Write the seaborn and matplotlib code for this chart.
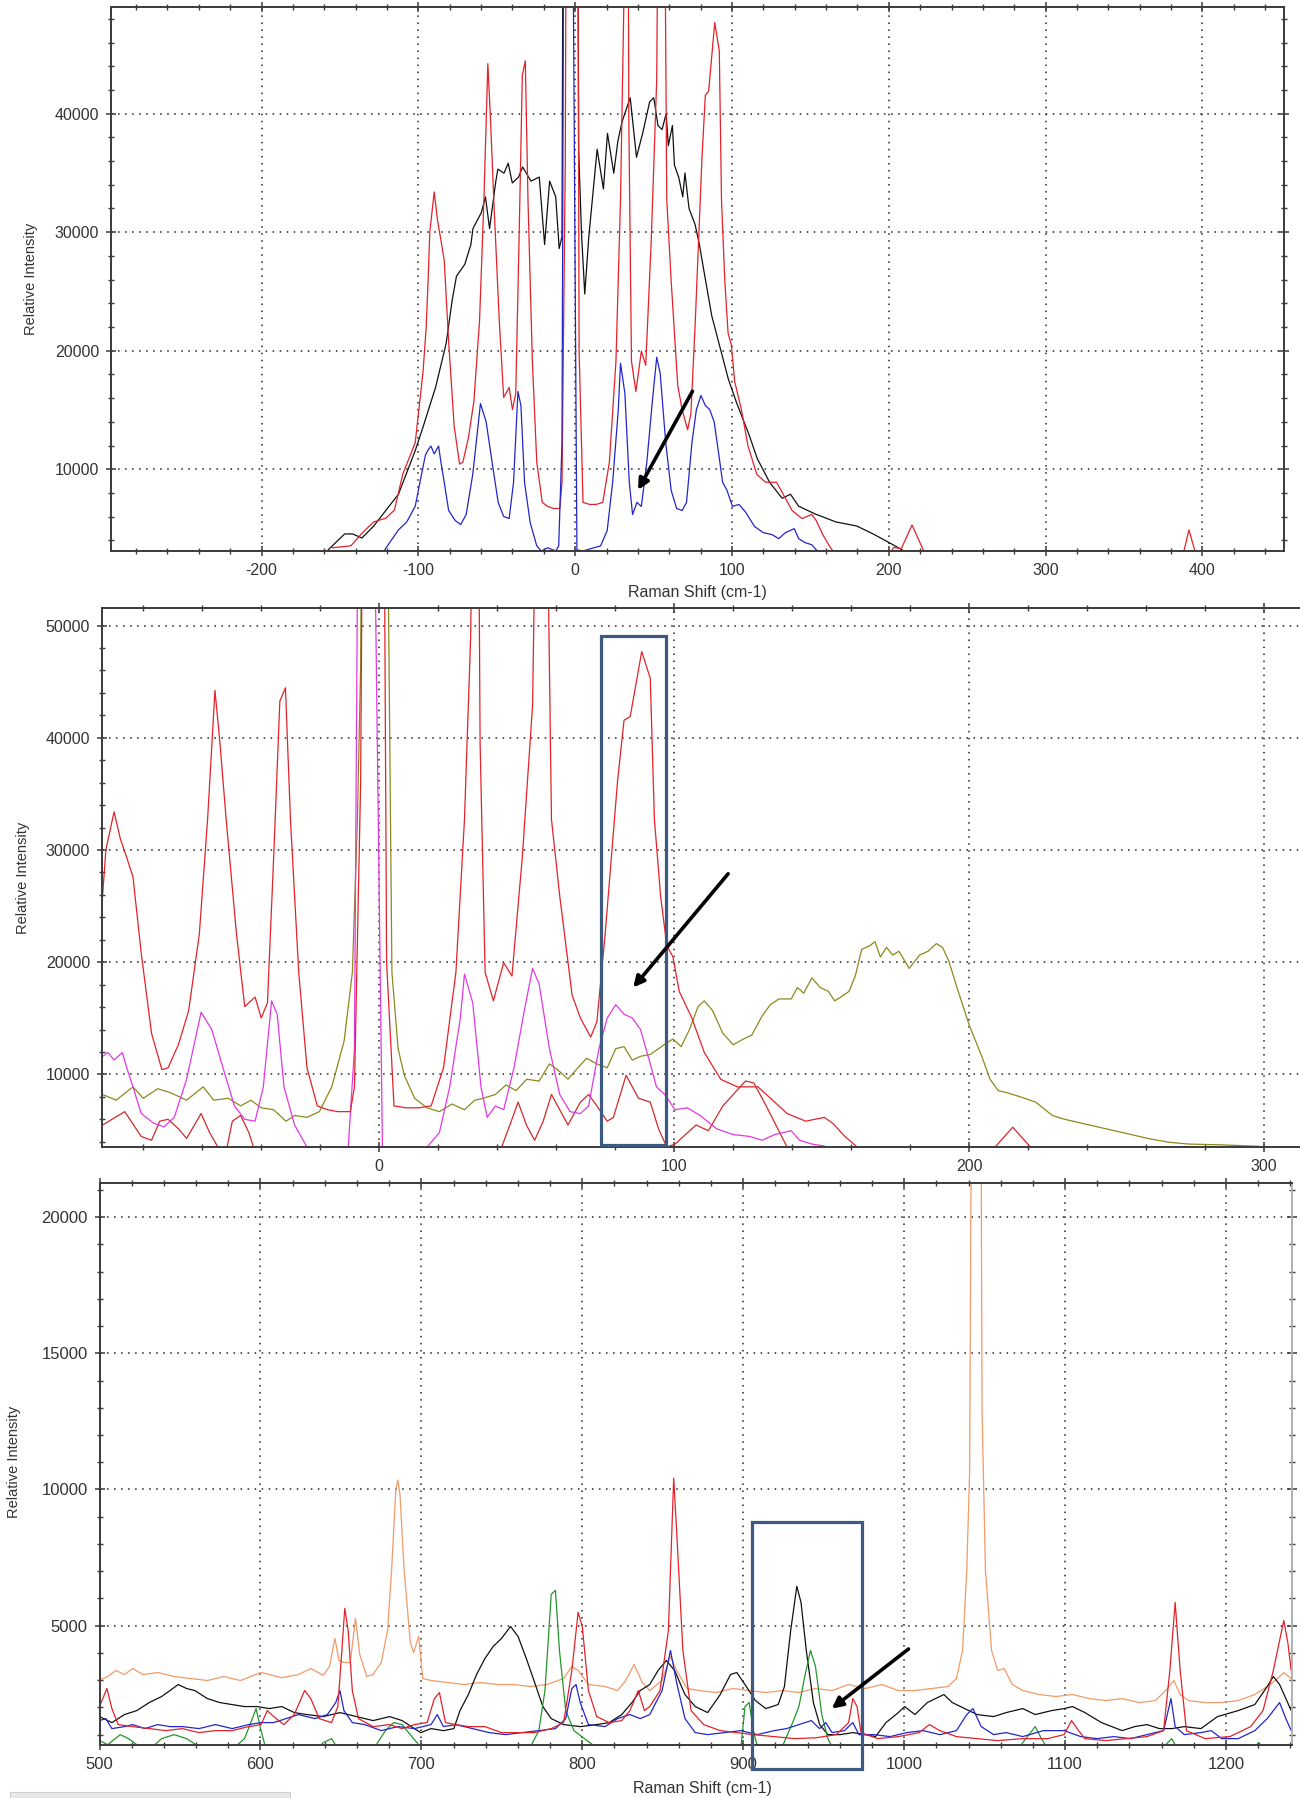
import numpy as np
import pandas as pd
import matplotlib
matplotlib.use("Agg")
import matplotlib.pyplot as plt
import seaborn as sns
from matplotlib.patches import Rectangle
from matplotlib.ticker import MultipleLocator

sns.set_theme(style="white")
plt.rcParams['font.family'] = ['Liberation Sans', 'DejaVu Sans']
plt.rcParams['axes.unicode_minus'] = False

# ---------------------------------------------------------------------------
# Spectra (Raman shift in cm-1, relative intensity); values above the axis
# limits belong to the saturated laser line and the strongest bands.
# ---------------------------------------------------------------------------

# low-frequency spectrum A (red in the upper two panels)
spec_a = [(-155, 3370), (-143, 3540), (-136.4, 4540), (-128.5, 5550), (-120.6, 5880),
          (-115.3, 6550), (-110, 9560), (-102, 12240), (-97, 18260), (-95, 22000),
          (-93.8, 25910), (-92.7, 30000), (-89.9, 33400), (-87.8, 31020), (-85.6, 29310),
          (-83.5, 27610), (-80.7, 20810), (-77.2, 13670), (-73.7, 10430), (-71.6, 10600),
          (-68.1, 12650), (-64.6, 15710), (-61, 22510), (-58.2, 32720), (-55.7, 44220),
          (-54, 39520), (-51.9, 32720), (-48.4, 22510), (-45.6, 16050), (-42.1, 16900),
          (-40, 15030), (-37.9, 16390), (-35.8, 29310), (-33.7, 43260), (-31.8, 44450),
          (-30.1, 32720), (-27.3, 19110), (-24.5, 10600), (-21, 7200), (-17.5, 6860),
          (-14, 6690), (-9.8, 6690), (-8.4, 8900), (-6.3, 36120), (-5.5, 70000),
          (1.5, 70000), (2.5, 20000), (5, 7200), (9.2, 7030), (13.4, 7030), (17.6, 7200),
          (21.8, 10600), (26, 19110), (28.9, 32720), (31, 49000), (32, 70000),
          (33.5, 70000), (34.2, 39520), (35.9, 19110), (38.7, 16560), (42.2, 19960),
          (45, 18770), (48.5, 29310), (52, 42920), (53.5, 70000), (56.5, 70000),
          (58.4, 32720), (61.2, 25910), (65.4, 17070), (68.2, 15030), (71.7, 13330),
          (73.8, 14690), (76.6, 22510), (80.8, 36120), (83, 41560), (85.1, 41900),
          (89, 47680), (91.9, 45300), (93.3, 32720), (95.4, 25910), (97.5, 21490),
          (99.6, 20470), (101.7, 17410), (106, 15030), (110.2, 11970), (115.8, 9570),
          (121.4, 8900), (128.4, 8900), (134.1, 7540), (138.3, 6520), (144.6, 5840),
          (150.9, 6180), (153.7, 5670), (157.9, 4480), (162.1, 3530), (167, 2600),
          (200, 2600), (203, 3400), (208, 3300), (214.8, 5300), (222.6, 3000),
          (228, 2600), (386, 2600), (388, 3000), (391.4, 4880), (395.4, 3000), (398, 2600)]

# low-frequency spectrum B (blue in the top panel, magenta in the middle one)
spec_b = [(-121.9, 3100), (-118, 3870), (-112.7, 4880), (-107.4, 5550), (-102, 6880),
          (-98, 9560), (-95.5, 11200), (-93.8, 11620), (-92, 11960), (-89.9, 11290),
          (-87.1, 11960), (-85.5, 10500), (-83.5, 8900), (-80.7, 6520), (-76.5, 5670),
          (-73, 5330), (-69.5, 6180), (-65.3, 9580), (-60.4, 15540), (-56.8, 14010),
          (-52.6, 10260), (-49.1, 7200), (-45.6, 6010), (-42.1, 5840), (-39.3, 8900),
          (-36.5, 16560), (-34.6, 15370), (-32.3, 8900), (-28.7, 5500), (-24.5, 3530),
          (-21.6, 3100), (-17.6, 3370), (-12.4, 3100), (-10.5, 3530), (-8.4, 12300),
          (-7, 70000), (-2.1, 70000), (0, 25910), (1.1, 3200), (5, 3100), (10, 3300),
          (16.2, 3530), (20.4, 4820), (23.9, 8900), (27.5, 15030), (28.9, 18940),
          (31.7, 16390), (34.5, 8900), (36.6, 6180), (39.4, 7200), (42.2, 6860),
          (45.7, 10600), (49.2, 15710), (52, 19450), (54.2, 18090), (57.7, 12300),
          (61.2, 8220), (64.7, 6690), (68.2, 6520), (71, 7200), (74.5, 12300),
          (77.3, 15030), (80.2, 16220), (83, 15370), (85.8, 15030), (88.6, 14010),
          (91.9, 10940), (94, 8900), (96.8, 8220), (100.3, 6860), (104.5, 7030),
          (108.8, 6350), (114.4, 5160), (120, 4650), (125.6, 4480), (129.8, 4140),
          (134.1, 4650), (139.7, 4990), (142.5, 4140), (146.7, 3800), (150.9, 3630),
          (154.4, 3100), (158, 2800)]

# low-frequency spectrum C (black, top panel)
spec_c = [(-157.5, 3200), (-147, 4540), (-142, 4540), (-136, 4200), (-128.5, 5200),
          (-120.6, 6550), (-112.7, 7890), (-102, 11570), (-97, 13570), (-89, 16920),
          (-82.3, 20600), (-78.4, 24280), (-75.7, 26290), (-70.4, 27290), (-66.5, 28960),
          (-65.2, 30300), (-59.9, 31640), (-57.2, 32980), (-54.6, 30300), (-50.6, 34310),
          (-49.3, 35320), (-45.4, 34980), (-42.7, 35820), (-40.1, 34150), (-36.1, 34650),
          (-33.5, 35500), (-28.2, 34310), (-22.9, 34650), (-19.5, 28960), (-16.3, 34310),
          (-12.4, 32980), (-10.2, 28620), (-8.4, 29630), (-7.5, 70000), (1.5, 70000),
          (2.2, 37000), (4, 30000), (6.1, 24780), (8.7, 29630), (14, 37000), (18, 33640),
          (20.6, 38330), (24.6, 34980), (27.2, 37660), (29.9, 39330), (35.1, 41340),
          (39.1, 36320), (43, 38330), (47.5, 41000), (50.1, 41340), (52.8, 39000),
          (55.4, 38660), (58, 40000), (59.4, 37300), (62, 39000), (63.3, 35650),
          (66, 34650), (68.6, 32980), (70, 35000), (72.6, 32000), (76.5, 30630),
          (79.2, 28960), (81.8, 26950), (87.1, 22940), (92.4, 20260), (97.7, 17590),
          (103, 15580), (110.9, 12900), (116.1, 10900), (124, 8890), (132, 7550),
          (137.3, 7890), (142.5, 6880), (153.1, 6220), (166.3, 5550), (179.5, 5210),
          (190, 4540), (199.3, 3870), (208.5, 3200), (212, 2800)]

# low-frequency spectrum D (olive, middle panel)
spec_d = [(-93.8, 8220), (-89.2, 7710), (-83.5, 8900), (-80, 7880), (-75.1, 8730),
          (-70.9, 8390), (-65.3, 7710), (-59.7, 8900), (-56.1, 7710), (-51.2, 7880),
          (-47, 7200), (-43.5, 7710), (-40, 7030), (-35.8, 6860), (-31.6, 5840),
          (-28.7, 6350), (-24.5, 6180), (-20.3, 6690), (-16.1, 8900), (-11.9, 12990),
          (-9.1, 19110), (-7.4, 32720), (-6.3, 46330), (-5.8, 70000), (2.5, 70000),
          (4.3, 19110), (6.4, 12300), (8.5, 9920), (12, 7880), (16.2, 7030), (20.4, 6690),
          (24.7, 7370), (28.9, 6860), (32.4, 7710), (35.2, 7880), (39.4, 8220),
          (43, 9070), (46.4, 8560), (50, 9580), (54.2, 9410), (57.7, 10940), (60.5, 10430),
          (64, 9580), (66.8, 10430), (70.3, 11450), (73.8, 10940), (77.3, 10600),
          (80.2, 12300), (83, 12480), (85.8, 11280), (88.6, 11620), (91.9, 11790),
          (94.7, 12300), (97.5, 12820), (99.6, 13160), (102.4, 12480), (105.2, 14010),
          (108.1, 16050), (110.2, 16560), (113, 15710), (116.5, 13670), (120, 12650),
          (123.5, 13160), (126.3, 13500), (129.8, 15200), (132.6, 16220), (135.5, 16730),
          (139.7, 16730), (141.8, 17750), (143.9, 17240), (146.7, 18600), (149.5, 17750),
          (152.3, 17410), (154.4, 16560), (156.5, 16900), (159.3, 17410), (161.4, 18770),
          (163.6, 21150), (166.4, 21490), (168.1, 21830), (169.9, 20470), (172, 21320),
          (174.1, 20640), (176.2, 20980), (179.7, 19450), (183.2, 20640), (186.1, 20980),
          (188.9, 21660), (191, 21320), (193.1, 20130), (195.9, 17750), (200.1, 14350),
          (204.3, 11620), (207.1, 9580), (209.9, 8560), (212.7, 8390), (216.9, 8050),
          (222.6, 7540), (228.2, 6350), (232.4, 6010), (238, 5670), (243.6, 5330),
          (249.3, 4990), (254.9, 4650), (260.5, 4310), (267.5, 3970), (274.6, 3800),
          (285.8, 3730), (298.4, 3600)]

# low-frequency spectrum E (second red trace, middle panel)
spec_e = [(-93.8, 5500), (-86.3, 6690), (-80.7, 4480), (-77.2, 4140), (-74.4, 5840),
          (-71.6, 6010), (-68.1, 5160), (-65.3, 4310), (-60.4, 6520), (-57.5, 4820),
          (-54.7, 3530), (-52, 3000), (-49.8, 5840), (-47, 6350), (-44.2, 4820),
          (-42, 3000), (38, 3000), (41.5, 3530), (44.3, 5500), (47.1, 7540), (49.9, 5500),
          (52.7, 4140), (55.6, 5840), (58.4, 8220), (61.2, 6860), (64, 5500), (68.2, 7540),
          (71, 8220), (73.8, 7200), (77.3, 5840), (79.4, 6180), (83.7, 9930), (87.9, 7880),
          (91.9, 7540), (94.7, 5160), (97.5, 3530), (100.3, 3800), (107.4, 5500),
          (111.6, 4990), (116.5, 7200), (124.2, 9420), (127, 9250), (131.2, 7200),
          (138.3, 3530), (141, 3000)]

# fingerprint region, 500-1240 cm-1 (bottom panel)
fp_orange = [(500, 3000), (505.1, 3134), (510.3, 3355), (515.5, 3207), (520.6, 3428),
             (527, 3207), (536.1, 3281), (546.4, 3134), (556.7, 3060), (567, 2987),
             (577.3, 3134), (587.6, 2987), (600.4, 3281), (613.3, 3090), (623.6, 3207),
             (631.3, 3428), (639, 3178), (642.9, 3500), (646.3, 4531), (648.8, 3722),
             (651.9, 3649), (655.8, 3649), (659.1, 5266), (661.7, 3943), (666.1, 3134),
             (669.9, 3207), (675.1, 3649), (679, 4826), (681.5, 7032), (684.1, 9974),
             (685.4, 10342), (686.7, 9827), (689.3, 7032), (693.1, 4384), (695.2, 4017),
             (698.3, 4605), (700.9, 3060), (706, 2987), (716.3, 2913), (726.6, 2840),
             (736.9, 2913), (747.2, 2840), (757.5, 2840), (767.8, 2766), (778.1, 2840),
             (788.4, 3060), (793.5, 3502), (797.4, 3355), (803.8, 2840), (814.2, 2766),
             (821.9, 2619), (827, 2987), (832.2, 3575), (837.3, 2913), (841.9, 2619),
             (849.6, 2987), (854.8, 3870), (858.6, 3355), (865.1, 2693), (872.8, 2619),
             (883.1, 2546), (893.4, 2693), (903.7, 2619), (914, 2546), (924.3, 2619),
             (934.6, 2546), (944.9, 2693), (955.2, 2619), (965.5, 2840), (975.8, 2693),
             (986.1, 2840), (996.4, 2619), (1006.7, 2619), (1017, 2693), (1027.3, 2766),
             (1032.5, 3060), (1036.3, 4090), (1038.9, 7032), (1040.7, 10710),
             (1042.2, 30000), (1047.4, 30000), (1048.4, 12916), (1050.5, 7032),
             (1054.3, 4090), (1058.2, 3355), (1062.1, 3428), (1067.2, 2840), (1073.7, 2619),
             (1084, 2472), (1094.3, 2399), (1104.6, 2472), (1114.9, 2325), (1125.2, 2251),
             (1135.5, 2325), (1145.8, 2178), (1156.1, 2251), (1162.5, 2619), (1167.6, 2987),
             (1171.5, 2472), (1176.7, 2251), (1187, 2178), (1197.3, 2178), (1207.6, 2251),
             (1217.9, 2472), (1225.6, 2766), (1230.7, 2987), (1235.9, 3281), (1240.5, 3060)]

fp_black = [(500, 1663), (507.7, 1442), (515.5, 1737), (523.2, 1884), (530.9, 2178),
            (538.6, 2399), (543.8, 2619), (548.9, 2840), (554.1, 2693), (559.2, 2619),
            (567, 2325), (574.7, 2178), (582.4, 2104), (590.1, 2031), (597.9, 2031),
            (605.6, 1957), (613.3, 2031), (621, 1810), (628.8, 1737), (639, 1663),
            (649.4, 1810), (659.7, 1663), (670, 1516), (680.3, 1663), (688, 1516),
            (695.7, 1222), (699.6, 1075), (706, 1222), (713.7, 1148), (720.2, 1222),
            (724, 1884), (729.2, 2472), (734.3, 3207), (739.5, 3796), (744.6, 4237),
            (749.8, 4531), (755.4, 4973), (760.1, 4605), (765.2, 3796), (770.4, 2913),
            (775.5, 2031), (780.7, 1589), (788.4, 1369), (798.7, 1295), (809, 1369),
            (816.7, 1442), (824.5, 1737), (830.9, 2178), (836, 2619), (841.9, 2840),
            (847.1, 3355), (852.2, 3722), (857.4, 3355), (863.8, 2472), (870.2, 2031),
            (877.9, 1810), (885.7, 2472), (892.1, 3207), (896, 3281), (901.1, 2840),
            (907.6, 2251), (914, 1957), (921.7, 2104), (925.6, 2766), (929.5, 4826),
            (933.3, 6444), (935.9, 5855), (939.2, 4090), (943.6, 2178), (947.5, 1369),
            (952.6, 1001), (960.3, 1001), (968.1, 1075), (975.8, 1001), (982.2, 928),
            (988.7, 1442), (996.4, 1810), (1000.3, 2031), (1006.7, 1737), (1014.4, 2178),
            (1024.7, 2472), (1029.9, 2178), (1037.6, 1957), (1045.3, 1737), (1055.6, 1663),
            (1063.4, 1810), (1073.7, 1957), (1081.4, 1737), (1091.7, 1884), (1099.4, 1957),
            (1104.6, 2031), (1112.3, 1810), (1122.6, 1442), (1135.5, 1148), (1143.2, 1295),
            (1150.9, 1369), (1158.6, 1222), (1166.3, 1222), (1174.1, 1295), (1184.4, 1222),
            (1194.7, 1663), (1207.6, 1884), (1217.9, 2104), (1225.6, 2766), (1229.4, 3134),
            (1233.3, 2840), (1240.5, 1884)]

fp_red = [(500, 2031), (504.6, 2693), (507.7, 1957), (511.6, 1369), (520.6, 1295),
          (530.9, 1222), (541.2, 1148), (551.5, 1222), (561.8, 1075), (572.1, 1148),
          (582.4, 1148), (592.7, 1295), (600.4, 1369), (604.3, 1884), (608.2, 1663),
          (614.6, 1369), (621, 1737), (627.5, 2619), (631.3, 2325), (636.5, 1589),
          (644.2, 1442), (648.1, 2031), (650.6, 4090), (652.4, 5634), (654.5, 4826),
          (657.1, 2619), (660.9, 1589), (670, 1295), (680.3, 1369), (688, 1222),
          (695.7, 1369), (703.6, 1442), (708.1, 2325), (711.2, 2546), (715, 1442),
          (721.5, 1369), (729.2, 1295), (739.5, 1295), (749.8, 1075), (760.1, 1075),
          (770.4, 1075), (780.7, 1222), (788.4, 1442), (793.5, 3355), (797.4, 5487),
          (800, 4973), (803.8, 2619), (809, 1663), (816.7, 1442), (824.5, 1516),
          (829.6, 1884), (834.8, 2619), (838.6, 1884), (841.9, 2031), (848.3, 2619),
          (853.5, 4826), (856.8, 10415), (858.6, 8503), (862.5, 4090), (867.6, 1884),
          (875.4, 1369), (885.7, 1148), (896, 1075), (906.3, 1001), (919.2, 928),
          (932, 854), (944.9, 883), (957.8, 1001), (965.5, 1442), (968.1, 2325),
          (970.7, 2031), (973.2, 1075), (983.5, 854), (996.4, 928), (1009.3, 1075),
          (1015.7, 1369), (1022.2, 1148), (1032.5, 928), (1045.3, 854), (1058.2, 781),
          (1073.7, 854), (1089.1, 854), (1099.4, 1001), (1104, 1516), (1108.4, 1148),
          (1112.3, 854), (1125.2, 781), (1138, 854), (1150.9, 928), (1161.2, 1148),
          (1165.1, 3355), (1168.4, 5855), (1171.5, 3355), (1175.4, 1148), (1187, 854),
          (1202.4, 928), (1215.3, 1295), (1223, 1884), (1229.4, 3355), (1235.9, 5193),
          (1238.4, 4384), (1240.5, 3355)]

fp_blue = [(500, 1516), (503.9, 1589), (507.7, 1222), (515.5, 1295), (520.6, 1369),
           (528.3, 1222), (536.1, 1369), (543.8, 1295), (551.5, 1295), (561.8, 1222),
           (572.1, 1369), (582.4, 1222), (592.7, 1369), (600.4, 1442), (608.2, 1442),
           (615.9, 1589), (623.6, 1737), (633.9, 1589), (641.6, 1737), (646.8, 2178),
           (649.4, 2619), (651.9, 1884), (657.1, 1442), (664.8, 1369), (675.1, 1148),
           (685.4, 1295), (695.7, 1222), (706, 1369), (709.9, 1737), (713.7, 1295),
           (721.5, 1369), (731.8, 1222), (742.1, 1075), (752.4, 1001), (762.6, 1075),
           (773, 1148), (783.3, 1222), (789.7, 1589), (793.5, 2693), (796.1, 2840),
           (798.7, 2178), (803.8, 1369), (814.2, 1295), (821.9, 1589), (829.6, 1737),
           (836, 1589), (841.9, 1737), (849.6, 2619), (854.8, 4090), (858.6, 2913),
           (863.8, 1589), (870.2, 1075), (877.9, 1001), (888.3, 1075), (898.6, 1148),
           (908.8, 1001), (919.2, 1148), (926.9, 1222), (934.6, 1369), (942.3, 1516),
           (947.5, 1222), (951.3, 1442), (955.2, 1075), (962.9, 1148), (968.1, 1442),
           (971.9, 1001), (981, 1001), (991.3, 928), (1001.6, 1075), (1011.9, 1148),
           (1022.2, 1001), (1032.5, 1148), (1038.9, 1737), (1042.7, 1957), (1047.9, 1295),
           (1055.6, 1001), (1063.4, 1075), (1073.7, 928), (1086.5, 1148), (1099.4, 1148),
           (1109.7, 928), (1120, 854), (1130.3, 928), (1140.6, 854), (1150.9, 1001),
           (1161.2, 1148), (1165.8, 2325), (1168.4, 1295), (1174.1, 1001), (1184.4, 1075),
           (1190.8, 1148), (1197.3, 854), (1207.6, 854), (1217.9, 1148), (1225.6, 1589),
           (1233.3, 2178), (1237.2, 1589), (1240.5, 1148)]

fp_green = [(500, 780), (505.1, 633), (512.9, 1000), (518, 853), (523.2, 633), (530, 400),
            (538.6, 853), (546.4, 1000), (554.1, 853), (561.8, 560), (570, 400),
            (582.4, 450), (590.1, 853), (594, 1442), (597.3, 1957), (600.4, 1148),
            (603, 560), (610, 400), (635, 450), (639, 707), (644.2, 853), (648, 500),
            (670, 450), (677.7, 1148), (682.8, 1442), (688, 1369), (693.1, 1000),
            (698.3, 633), (705, 400), (765, 400), (767.8, 560), (773, 1148), (776.8, 2619),
            (780.7, 6150), (783.3, 6297), (785.8, 4090), (789.7, 1884), (794.8, 1148),
            (801.3, 853), (806.4, 633), (812, 400), (895, 400), (898.6, 560), (901.1, 2031),
            (903.7, 2178), (906.3, 1148), (908.8, 560), (915, 400), (922, 400), (924.3, 560),
            (930.7, 1442), (934.6, 2031), (938.5, 3207), (941.8, 4090), (944.9, 3502),
            (948.8, 1737), (952.6, 853), (955.2, 560), (960, 400), (1070, 400),
            (1073.7, 707), (1081.4, 1295), (1085.3, 853), (1090, 400), (1158, 400),
            (1161.2, 560), (1166.3, 853), (1170, 450), (1215, 400), (1220.4, 707),
            (1225, 400), (1241, 400)]

# axis ranges
top_xlim, top_ylim = (-296, 452), (3100, 49000)
mid_xlim, mid_ylim = (-94, 312.2), (3540, 51560)
bot_xlim, bot_ylim = (500, 1241), (620, 21250)

# highlighted regions (x0, x1, y0, y1) and arrows (tail, head)
mid_box = (75.3, 97.3, 3700, 49040)
bot_box = (905.7, 973.7, -265, 8795)
top_arrow = ((74.8, 16580), (40.1, 8250))
mid_arrow = ((118.3, 27880), (86.1, 17750))
bot_arrow = ((1002.7, 4144), (955.0, 1954))

RED = '#E3222A'
BLUE = '#2226C8'
BLACK = '#111111'
MAGENTA = '#E238E2'
OLIVE = '#8A8A1C'
RED2 = '#D02A2A'
ORANGE = '#F29A68'
GREEN = '#23962C'
BOX = '#3D5B80'
SPINE = '#3a3a3a'
TEXT = '#333333'
LW = 0.9


def frame(pairs):
    return pd.DataFrame(pairs, columns=['shift', 'intensity'])


def trace(ax, pairs, color, lw=LW):
    sns.lineplot(data=frame(pairs), x='shift', y='intensity', ax=ax, color=color,
                 sort=False, estimator=None, lw=lw)


def style(ax, xmajor, xminor, ymajor, yminor, fs=11.5, right=True):
    ax.xaxis.set_major_locator(MultipleLocator(xmajor))
    ax.xaxis.set_minor_locator(MultipleLocator(xminor))
    ax.yaxis.set_major_locator(MultipleLocator(ymajor))
    ax.yaxis.set_minor_locator(MultipleLocator(yminor))
    ax.tick_params(which='both', direction='inout', top=True, right=right,
                   bottom=True, left=True, color=SPINE, labelcolor=TEXT)
    ax.tick_params(which='major', length=7, width=1.1, labelsize=fs, pad=5)
    ax.tick_params(which='minor', length=4.5, width=1.0)
    ax.grid(True, which='major', color='#222222', linestyle=(0, (1, 3.6)), lw=1.1)
    for side, sp in ax.spines.items():
        sp.set_color(SPINE)
        sp.set_linewidth(1.4)
    ax.spines['right'].set_visible(right)
    ax.set_xlabel('')
    ax.set_ylabel('')


fig = plt.figure(figsize=(13, 17.98), dpi=100, facecolor='white')

# ---- top panel -------------------------------------------------------------
ax1 = fig.add_axes([111 / 1300, 1 - 551 / 1798, 1173 / 1300, 544 / 1798])
trace(ax1, spec_c, BLACK)
trace(ax1, spec_a, RED)
trace(ax1, spec_b, BLUE)
ax1.set_xlim(*top_xlim)
ax1.set_ylim(*top_ylim)
style(ax1, 100, 20, 10000, 2000)
ax1.set_xlabel('Raman Shift (cm-1)', fontsize=11.5, color=TEXT)
ax1.xaxis.set_label_coords(0.4996, -0.077)
ax1.xaxis.label.set_va('center')
ax1.set_ylabel('Relative Intensity', fontsize=10.5, color=TEXT)
ax1.yaxis.set_label_coords(-0.068, 0.5)
ax1.yaxis.label.set_va('center')

# ---- middle panel ----------------------------------------------------------
ax2 = fig.add_axes([102 / 1300, 1 - 1147 / 1798, 1198 / 1300, 539 / 1798])
trace(ax2, spec_d, OLIVE)
trace(ax2, spec_e, RED2)
trace(ax2, spec_b, MAGENTA)
trace(ax2, spec_a, RED)
ax2.set_xlim(*mid_xlim)
ax2.set_ylim(*mid_ylim)
style(ax2, 100, 20, 10000, 2000, right=False)
ax2.set_ylabel('Relative Intensity', fontsize=10.5, color=TEXT)
ax2.yaxis.set_label_coords(-0.066, 0.5)
ax2.yaxis.label.set_va('center')

# ---- bottom panel ----------------------------------------------------------
ax3 = fig.add_axes([99.5 / 1300, 1 - 1745 / 1798, 1192.5 / 1300, 562 / 1798])
trace(ax3, fp_orange, ORANGE)
trace(ax3, fp_black, BLACK)
trace(ax3, fp_green, GREEN)
trace(ax3, fp_blue, BLUE)
trace(ax3, fp_red, RED)
ax3.set_xlim(*bot_xlim)
ax3.set_ylim(*bot_ylim)
style(ax3, 100, 20, 5000, 1000, fs=12)
ax3.spines['right'].set_color('#b0b0b0')
ax3.set_xlabel('Raman Shift (cm-1)', fontsize=11.5, color=TEXT)
ax3.xaxis.set_label_coords(0.506, -0.078)
ax3.xaxis.label.set_va('center')
ax3.set_ylabel('Relative Intensity', fontsize=10.5, color=TEXT)
ax3.yaxis.set_label_coords(-0.0713, 0.504)
ax3.yaxis.label.set_va('center')

# ---- highlight boxes and arrows -------------------------------------------
for ax, (x0, x1, y0, y1) in ((ax2, mid_box), (ax3, bot_box)):
    ax.add_patch(Rectangle((x0, y0), x1 - x0, y1 - y0, fill=False, edgecolor=BOX,
                           lw=2.3, clip_on=False, zorder=6))

for ax, (tail, head) in ((ax1, top_arrow), (ax2, mid_arrow), (ax3, bot_arrow)):
    ax.annotate('', xy=head, xytext=tail,
                arrowprops=dict(arrowstyle='-|>', color='black', lw=2.6,
                                mutation_scale=16, shrinkA=0, shrinkB=0),
                zorder=7)

# small status bar strip along the lower-left edge
fig.patches.append(Rectangle((10 / 1300, 0), 280 / 1300, 6 / 1798,
                             transform=fig.transFigure, facecolor='#e8e8e8',
                             edgecolor='#cfcfcf', lw=0.8))

fig.savefig('out.png', dpi=100, facecolor='white')
